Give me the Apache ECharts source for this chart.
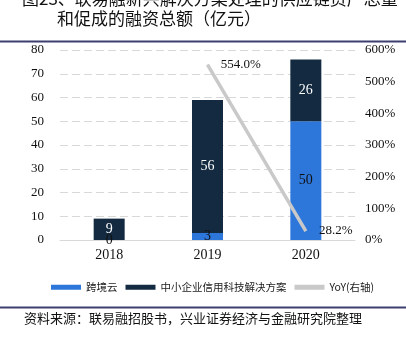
<!DOCTYPE html>
<html>
<head>
<meta charset="utf-8">
<script src="https://cdn.jsdelivr.net/npm/echarts@6/dist/echarts.min.js"></script>
<style>
html,body{margin:0;padding:0;background:#fff;}
#chart{width:406px;height:339px;}
</style>
</head>
<body>
<div id="chart"></div>
<script>
// 年份与各业务融资额（亿元）
const years = ['2018', '2019', '2020'];
const crossBorder = [0, 3, 50];          // 跨境云
const smeTech = [9, 56, 26];             // 中小企业信用科技解决方案
const yoy = [null, 554.0, 28.2];         // 同比增速（%），右轴
const leftTicks = { min: 0, max: 80, interval: 10 };
const rightTicks = { min: 0, max: 600, interval: 100 };

const serif = '"Liberation Serif", "Noto Sans CJK SC", serif';
const cjk = '"Noto Sans CJK SC", "Liberation Serif", sans-serif';

const chart = echarts.init(document.getElementById('chart'));
chart.setOption({
  animation: false,
  backgroundColor: '#fff',
  graphic: [
    { type: 'text', left: 22, top: -10, style: { text: '图23、联易融新兴解决方案处理的供应链资产总量', font: '17px ' + cjk, fill: '#111' } },
    { type: 'text', left: 57, top: 10, style: { text: '和促成的融资总额（亿元）', font: '17px ' + cjk, fill: '#111' } },
    { type: 'rect', shape: { x: 0, y: 40.5, width: 406, height: 2 }, style: { fill: '#3d3f6e' } },
    { type: 'rect', shape: { x: 0, y: 306.5, width: 406, height: 2 }, style: { fill: '#3d3f6e' } },
    { type: 'text', left: 24, top: 312, style: { text: '资料来源：联易融招股书，兴业证券经济与金融研究院整理', font: '13px ' + cjk, fill: '#111' } }
  ],
  grid: { left: 60, right: 51, top: 50, bottom: 99 },
  legend: {
    top: 277, left: 46,
    itemWidth: 30, itemHeight: 5, itemGap: 8,
    icon: 'rect',
    textStyle: { fontFamily: cjk, fontSize: 10.5, color: '#222' },
    data: ['跨境云', '中小企业信用科技解决方案', 'YoY(右轴)']
  },
  xAxis: {
    type: 'category', data: years,
    axisLine: { lineStyle: { color: '#d9d9d9', width: 1 } },
    axisTick: { show: false },
    axisLabel: { fontFamily: serif, fontSize: 14, color: '#111', margin: 8 }
  },
  yAxis: [
    {
      type: 'value', min: leftTicks.min, max: leftTicks.max, interval: leftTicks.interval,
      axisLine: { show: false }, axisTick: { show: false },
      axisLabel: { fontFamily: serif, fontSize: 13, color: '#111', margin: 16 },
      splitLine: { lineStyle: { color: '#d9d9d9', type: [8, 4], width: 1 } }
    },
    {
      type: 'value', min: rightTicks.min, max: rightTicks.max, interval: rightTicks.interval,
      position: 'right',
      axisLine: { show: false }, axisTick: { show: false },
      axisLabel: { fontFamily: serif, fontSize: 13, color: '#111', margin: 10, formatter: '{value}%' },
      splitLine: { show: false }
    }
  ],
  series: [
    {
      name: '跨境云', type: 'bar', stack: 'total', data: crossBorder, barWidth: 31,
      itemStyle: { color: '#2d77db' },
      label: { show: true, position: 'inside', fontFamily: serif, fontSize: 14, color: '#111' }
    },
    {
      name: '中小企业信用科技解决方案', type: 'bar', stack: 'total', data: smeTech, barWidth: 31,
      itemStyle: { color: '#132a40' },
      label: { show: true, position: 'inside', fontFamily: serif, fontSize: 14, color: '#fff' }
    },
    {
      name: 'YoY(右轴)', type: 'line', yAxisIndex: 1, data: yoy,
      symbol: 'circle', symbolSize: 0.5, showSymbol: true, connectNulls: false,
      lineStyle: { color: '#c9c9c9', width: 3.5 },
      itemStyle: { color: '#c9c9c9' },
      label: {
        show: true, position: 'right', distance: 13,
        fontFamily: serif, fontSize: 13, color: '#111',
        formatter: p => p.value == null ? '' : Number(p.value).toFixed(1) + '%'
      }
    }
  ]
});
</script>
</body>
</html>
